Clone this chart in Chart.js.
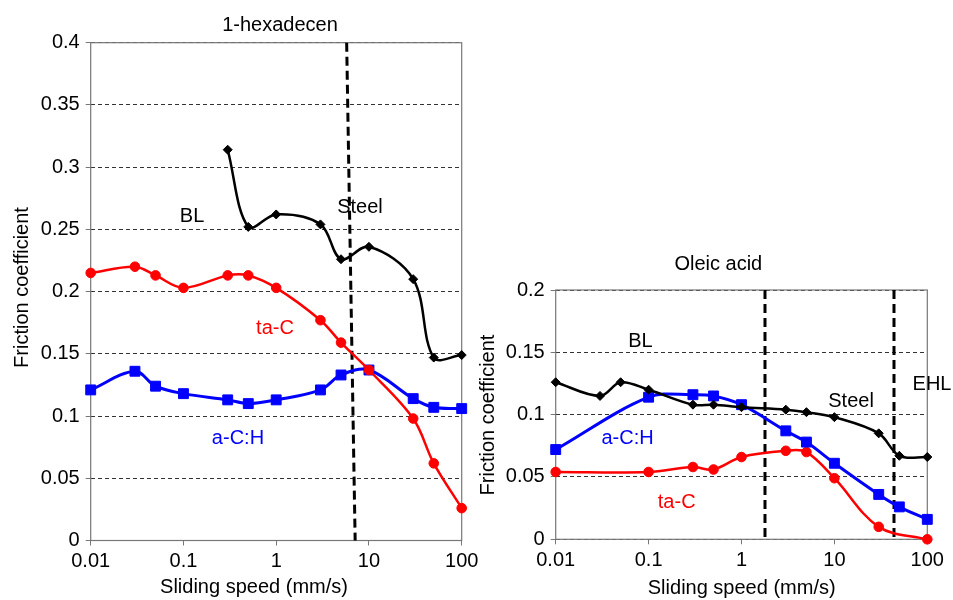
<!DOCTYPE html>
<html>
<head>
<meta charset="utf-8">
<script src="https://cdn.jsdelivr.net/npm/chart.js@4.4.1/dist/chart.umd.min.js"></script>
<style>
html, body { margin: 0; padding: 0; background: #fff; }
#wrap { position: relative; width: 953px; height: 600px; }
canvas { position: absolute; left: 0; top: 0; }
</style>
</head>
<body>
<div id="wrap">
  <canvas id="c1" width="953" height="600"></canvas>
  <canvas id="c2" width="953" height="600"></canvas>
</div>
<script>
// ---------- data ----------
const xTicks = [0.01, 0.1, 1, 10, 100];
const xTickLabels = ['0.01', '0.1', '1', '10', '100'];

const hexYTickLabels = ['0', '0.05', '0.1', '0.15', '0.2', '0.25', '0.3', '0.35', '0.4'];
const oleYTickLabels = ['0', '0.05', '0.1', '0.15', '0.2'];

// 1-hexadecen
const hexSteelX = [0.3, 0.5, 1, 3, 5, 10, 30, 50, 100];
const hexSteelY = [0.314, 0.252, 0.262, 0.254, 0.226, 0.236, 0.210, 0.147, 0.149];
const hexTaCX = [0.01, 0.03, 0.05, 0.1, 0.3, 0.5, 1, 3, 5, 10, 30, 50, 100];
const hexTaCY = [0.215, 0.220, 0.213, 0.203, 0.213, 0.213, 0.203, 0.177, 0.159, 0.137, 0.098, 0.062, 0.026];
const hexACHX = [0.01, 0.03, 0.05, 0.1, 0.3, 0.5, 1, 3, 5, 10, 30, 50, 100];
const hexACHY = [0.121, 0.136, 0.124, 0.118, 0.113, 0.110, 0.113, 0.121, 0.133, 0.137, 0.114, 0.107, 0.106];
const hexRegimeX = [5.75, 7.1];
const hexRegimeY = [0.4, 0];

// Oleic acid
const oleSteelX = [0.01, 0.03, 0.05, 0.1, 0.3, 0.5, 1, 3, 5, 10, 30, 50, 100];
const oleSteelY = [0.126, 0.115, 0.126, 0.120, 0.108, 0.108, 0.106, 0.104, 0.102, 0.098, 0.085, 0.067, 0.066];
const oleACHX = [0.01, 0.1, 0.3, 0.5, 1, 3, 5, 10, 30, 50, 100];
const oleACHY = [0.072, 0.114, 0.116, 0.115, 0.108, 0.087, 0.078, 0.061, 0.036, 0.026, 0.016];
const oleTaCX = [0.01, 0.1, 0.3, 0.5, 1, 3, 5, 10, 30, 100];
const oleTaCY = [0.054, 0.054, 0.058, 0.056, 0.066, 0.071, 0.070, 0.049, 0.010, 0.000];
const oleRegime1X = [1.79, 1.79];
const oleRegime2X = [43.8, 43.8];
const oleRegimeY = [0.2, 0];

// ---------- helpers ----------
const FONT = "'Liberation Sans', Arial, Helvetica, sans-serif";
Chart.defaults.font.family = FONT;
Chart.defaults.font.size = 20;
Chart.defaults.color = '#000';

function pts(xs, ys) { return xs.map((x, i) => ({ x: x, y: ys[i] })); }

function series(label, xs, ys, color, style, radius, width) {
  return {
    label: label, data: pts(xs, ys),
    borderColor: color, backgroundColor: color,
    pointBackgroundColor: color, pointBorderColor: color, pointBorderWidth: 1,
    pointStyle: style, pointRadius: radius, borderWidth: width,
    tension: 0.35, clip: false, order: 1
  };
}
function regime(xs, ys) {
  return {
    label: 'regime', data: pts(xs, ys), borderColor: '#000', borderWidth: 3,
    borderDash: [9, 5], pointRadius: 0, tension: 0, clip: false, order: 5
  };
}

function makeChart(id, cfg) {
  const AXIS = '#777';
  const plugin = {
    id: 'decor',
    beforeDatasetsDraw(chart) {
      const { ctx, chartArea: a } = chart;
      ctx.save();
      ctx.strokeStyle = AXIS; ctx.lineWidth = 1.2; ctx.setLineDash([]);
      ctx.strokeRect(a.left, a.top, a.right - a.left, a.bottom - a.top);
      ctx.restore();
    },
    afterDraw(chart) {
      const { ctx } = chart;
      const xs = chart.scales.x, ys = chart.scales.y;
      ctx.save();
      ctx.font = '20px ' + FONT;
      ctx.textBaseline = 'alphabetic';
      ctx.textAlign = 'center';
      // in-plot labels (data coordinates)
      cfg.notes.forEach(n => {
        ctx.fillStyle = n.color;
        ctx.fillText(n.text, xs.getPixelForValue(n.x), ys.getPixelForValue(n.y));
      });
      ctx.fillStyle = '#000';
      ctx.fillText(cfg.title, cfg.titlePos[0], cfg.titlePos[1]);
      ctx.fillText('Sliding speed (mm/s)', cfg.xTitlePos[0], cfg.xTitlePos[1]);
      ctx.translate(cfg.yTitlePos[0], cfg.yTitlePos[1]);
      ctx.rotate(-Math.PI / 2);
      ctx.fillText('Friction coefficient', 0, 0);
      ctx.restore();
    }
  };
  return new Chart(document.getElementById(id), {
    type: 'line',
    data: { datasets: cfg.datasets },
    options: {
      responsive: false, animation: false, devicePixelRatio: 1,
      layout: { padding: cfg.padding },
      plugins: { legend: { display: false }, tooltip: { enabled: false } },
      elements: { line: { capBezierPoints: false } },
      scales: {
        x: {
          type: 'logarithmic', min: 0.01, max: 100,
          afterBuildTicks: s => { s.ticks = xTicks.map(v => ({ value: v })); },
          ticks: { padding: 4, color: '#000', font: { size: 20 }, autoSkip: false, maxRotation: 0, minRotation: 0,
                   callback: (v, i) => xTickLabels[i] },
          grid: { drawOnChartArea: false, drawTicks: true, tickLength: 5, tickColor: AXIS, color: AXIS },
          border: { display: false },
          afterFit: s => { s.height = cfg.xHeight; }
        },
        y: {
          type: 'linear', min: 0, max: cfg.yMax,
          afterBuildTicks: s => { s.ticks = cfg.yLabels.map(l => ({ value: parseFloat(l) })); },
          ticks: { padding: 6, color: '#000', font: { size: 20 }, autoSkip: false,
                   callback: (v, i) => cfg.yLabels[i] },
          grid: { color: '#333', lineWidth: 1, drawTicks: true, tickLength: 5, tickColor: AXIS, tickBorderDash: [] },
          border: { display: false, dash: [4, 3] },
          afterFit: s => { s.width = cfg.yWidth; }
        }
      }
    },
    plugins: [plugin]
  });
}

// ---------- left: 1-hexadecen ----------
makeChart('c1', {
  padding: { left: 0, top: 42.7, right: 953 - 461.7, bottom: 0 },
  yWidth: 90.7, xHeight: 59.5, yMax: 0.4, yLabels: hexYTickLabels,
  title: '1-hexadecen', titlePos: [280, 31],
  xTitlePos: [254, 593], yTitlePos: [27.5, 287.5],
  notes: [
    { text: 'BL', x: 0.1237, y: 0.2562, color: '#000' },
    { text: 'Steel', x: 8.01, y: 0.2632, color: '#000' },
    { text: 'ta-C', x: 0.971, y: 0.1657, color: '#ff0000' },
    { text: 'a-C:H', x: 0.387, y: 0.0775, color: '#0000ff' }
  ],
  datasets: [
    series('Steel', hexSteelX, hexSteelY, '#000000', 'rectRot', 4.5, 2.5),
    series('ta-C', hexTaCX, hexTaCY, '#ff0000', 'circle', 4.8, 2.5),
    series('a-C:H', hexACHX, hexACHY, '#0000ff', 'rect', 7, 3),
    regime(hexRegimeX, hexRegimeY)
  ]
});

// ---------- right: Oleic acid ----------
makeChart('c2', {
  padding: { left: 470, top: 290, right: 953 - 927.3, bottom: 0 },
  yWidth: 85.7, xHeight: 60.7, yMax: 0.2, yLabels: oleYTickLabels,
  title: 'Oleic acid', titlePos: [718.3, 270],
  xTitlePos: [741.7, 594], yTitlePos: [494, 415],
  notes: [
    { text: 'BL', x: 0.0818, y: 0.1545, color: '#000' },
    { text: 'Steel', x: 15.1, y: 0.1064, color: '#000' },
    { text: 'EHL', x: 112.4, y: 0.1198, color: '#000' },
    { text: 'a-C:H', x: 0.0593, y: 0.0762, color: '#0000ff' },
    { text: 'ta-C', x: 0.2007, y: 0.0249, color: '#ff0000' }
  ],
  datasets: [
    series('Steel', oleSteelX, oleSteelY, '#000000', 'rectRot', 4.5, 2.5),
    series('a-C:H', oleACHX, oleACHY, '#0000ff', 'rect', 7, 3),
    series('ta-C', oleTaCX, oleTaCY, '#ff0000', 'circle', 4.8, 2.5),
    regime(oleRegime1X, oleRegimeY),
    regime(oleRegime2X, oleRegimeY)
  ]
});
</script>
</body>
</html>
